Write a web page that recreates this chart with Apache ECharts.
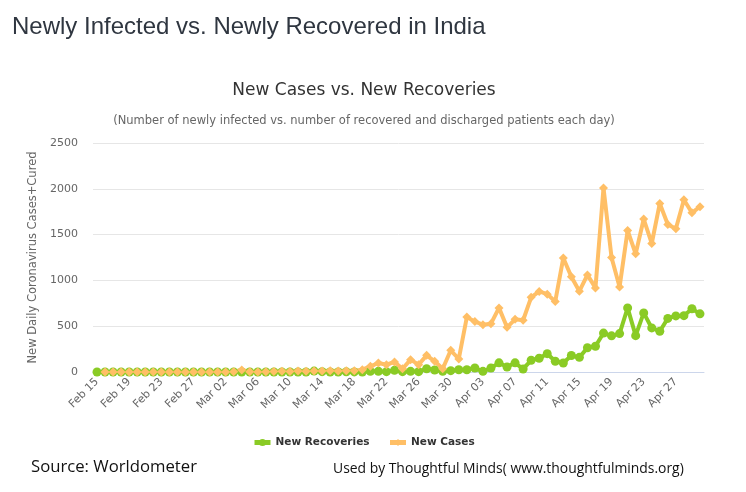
<!DOCTYPE html>
<html>
<head>
<meta charset="utf-8">
<style>html,body{margin:0;padding:0;background:#fff}#main{width:746px;height:492px}</style>
<script src="https://cdn.jsdelivr.net/npm/echarts@6/dist/echarts.min.js"></script>
</head>
<body>
<div id="main"></div>
<script>
var dates = ['Feb 15','Feb 16','Feb 17','Feb 18','Feb 19','Feb 20','Feb 21','Feb 22','Feb 23','Feb 24','Feb 25','Feb 26','Feb 27','Feb 28','Feb 29',
  'Mar 01','Mar 02','Mar 03','Mar 04','Mar 05','Mar 06','Mar 07','Mar 08','Mar 09','Mar 10','Mar 11','Mar 12','Mar 13','Mar 14','Mar 15','Mar 16','Mar 17','Mar 18','Mar 19','Mar 20','Mar 21','Mar 22','Mar 23','Mar 24','Mar 25','Mar 26','Mar 27','Mar 28','Mar 29','Mar 30','Mar 31',
  'Apr 01','Apr 02','Apr 03','Apr 04','Apr 05','Apr 06','Apr 07','Apr 08','Apr 09','Apr 10','Apr 11','Apr 12','Apr 13','Apr 14','Apr 15','Apr 16','Apr 17','Apr 18','Apr 19','Apr 20','Apr 21','Apr 22','Apr 23','Apr 24','Apr 25','Apr 26','Apr 27','Apr 28','Apr 29','Apr 30'];
var newRecoveries = [0,0,0,0,0,0,0,0,0,0,0,0,0,0,0,0,0,0,0,0,0,0,0,0,0,0,0,10,4,0,0,2,1,
  0,7,7,4,18,4,7,4,36,22,7,15,25,25,44,7,44,100,55,100,33,
  128,150,200,117,98,180,160,265,281,425,395,419,700,397,645,481,445,585,612,615,690,635];
var newCases = [null,0,0,0,0,0,0,0,0,0,0,0,0,0,0,0,1,2,22,2,1,3,5,8,6,11,9,12,10,14,11,13,15,
  25,62,98,80,109,36,135,80,182,117,36,237,142,600,550,517,528,700,488,575,565,
  815,880,850,770,1245,1040,882,1060,918,2010,1250,929,1545,1290,1670,1403,1840,1611,1563,1880,1738,1805];
var yTicks = [0,500,1000,1500,2000,2500];

var myChart = echarts.init(document.getElementById('main'));
var font = '"DejaVu Sans", sans-serif';
var option = {
  backgroundColor: '#fff',
  animation: false,
  title: [{
    text: 'Newly Infected vs. Newly Recovered in India',
    left: 7, top: 10,
    textStyle: {fontFamily: 'Liberation Sans', fontSize: 24, fontWeight: 'normal', color: '#2f3640'}
  }, {
    text: 'New Cases vs. New Recoveries',
    left: 359, top: 77, textAlign: 'center',
    textStyle: {fontFamily: font, fontSize: 17, fontWeight: 'normal', color: '#333'}
  }, {
    text: '(Number of newly infected vs. number of recovered and discharged patients each day)',
    left: 359, top: 110, textAlign: 'center',
    textStyle: {fontFamily: font, fontSize: 11.5, fontWeight: 'normal', color: '#666'}
  }],
  graphic: [{
    type: 'text', left: 31, top: 459,
    style: {text: 'Source: Worldometer', fontFamily: 'Open Sans', fontSize: 16.7, fill: '#111'}
  }, {
    type: 'text', left: 333, top: 462,
    style: {text: 'Used by Thoughtful Minds( www.thoughtfulminds.org)', fontFamily: 'Open Sans', fontSize: 13.9, fill: '#111'}
  }],
  legend: {
    bottom: 39, left: 247,
    itemWidth: 16, itemHeight: 9, itemGap: 18,
    lineStyle: {width: 5},
    textStyle: {fontFamily: font, fontSize: 10.5, fontWeight: 'bold', color: '#333'},
    data: ['New Recoveries', 'New Cases']
  },
  grid: {left: 93, width: 611, top: 143, height: 229},
  xAxis: {
    type: 'category', data: dates, boundaryGap: true,
    axisLine: {lineStyle: {color: '#ccd6eb'}},
    axisTick: {show: false},
    axisLabel: {interval: 3, rotate: 45, fontFamily: font, fontSize: 11, color: '#666', margin: 8}
  },
  yAxis: {
    type: 'value', min: yTicks[0], max: yTicks[5], interval: yTicks[1],
    name: 'New Daily Coronavirus Cases+Cured',
    nameLocation: 'middle', nameGap: 50,
    nameTextStyle: {fontFamily: font, fontSize: 11.5, color: '#666'},
    axisLine: {show: false}, axisTick: {show: false},
    axisLabel: {fontFamily: font, fontSize: 11, color: '#666', margin: 15, formatter: function(v) { return String(v); }},
    splitLine: {lineStyle: {color: '#e6e6e6'}}
  },
  series: [{
    name: 'New Recoveries', type: 'line', data: newRecoveries,
    symbol: 'circle', symbolSize: 9, showAllSymbol: true,
    lineStyle: {width: 4, color: '#8ACB25'}, itemStyle: {color: '#8ACB25'}
  }, {
    name: 'New Cases', type: 'line', data: newCases,
    symbol: 'diamond', symbolSize: 9, showAllSymbol: true,
    lineStyle: {width: 4, color: '#FFBF66'}, itemStyle: {color: '#FFBF66'}
  }]
};
myChart.setOption(option);
</script>
</body>
</html>
